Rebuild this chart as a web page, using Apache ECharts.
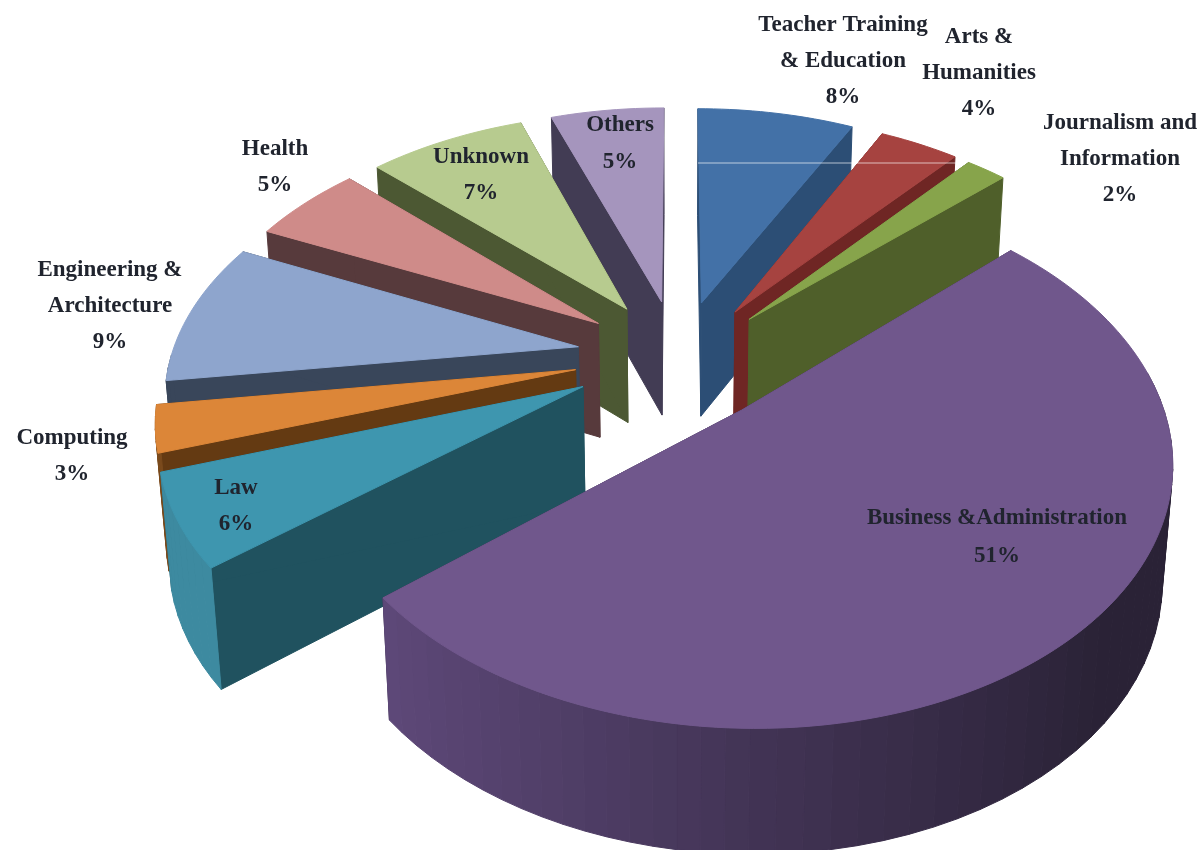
<!DOCTYPE html>
<html>
<head>
<meta charset="utf-8">
<script src="https://cdn.jsdelivr.net/npm/echarts@6/dist/echarts.min.js"></script>
<style>html,body{margin:0;padding:0;background:#fff}#chart{width:1200px;height:850px}</style>
</head>
<body>
<div id="chart"></div>
<script>
// Share of students by field of study, clockwise from twelve o'clock.
const categories = [
  'Teacher Training\n& Education', 'Arts &\nHumanities', 'Journalism and\nInformation',
  'Business &Administration', 'Law', 'Computing', 'Engineering &\nArchitecture',
  'Health', 'Unknown', 'Others'
];
const shares = [8, 4, 2, 51, 6, 3, 9, 5, 7, 5];

const topColors  = ['#4371a7', '#a64340', '#87a44b', '#70578c', '#3e96af', '#dc8638', '#8ea5cd', '#cf8b89', '#b7cb8f', '#a595bd'];
const edgeColors = ['#2c4e75', '#6f2624', '#4f5f2a', '#3a2d4c', '#20525f', '#643a12', '#39465a', '#573a3c', '#4c5833', '#423c54'];
const rimLight   = ['#3a628f', '#8a3835', '#6f873c', '#5d4878', '#3d8aa0', '#7a4a1c', '#39465a', '#a06c6a', '#8c9c6e', '#7f7391'];
const rimDark    = ['#2c4e75', '#6f2624', '#4f5f2a', '#2a2236', '#2c6a7c', '#643a12', '#39465a', '#573a3c', '#4c5833', '#423c54'];

// Label centres on the page.
const labelCentres = [
  [843, 61], [979, 73], [1120, 159], [997, 537], [236, 506],
  [72, 456], [110, 306], [275, 167], [481, 175], [620, 144]
];
const labelLineHeights = [36, 36, 36, 38, 36, 36, 36, 36, 36, 37];

// Painter's order: rear slices first, the large front slice last.
const paintOrder = [9, 0, 8, 1, 7, 2, 6, 5, 4, 3];

// Perspective projection of the tilted disc.
const view = {
  cx: 677, cy: 360, rx: 408, ry: 245, persp: 0.17,
  depth: 115, depthPersp: 0.4, converge: 0.00018,
  explode: 0.25, angleBend: 4.3 * Math.PI / 180
};

function project(u, v, h) {
  const s = 1 / (1 - view.persp * v);
  const hs = h * Math.pow(s, view.depthPersp);
  const dx = view.rx * u * s;
  return [view.cx + dx * (1 - view.converge * hs), view.cy + view.ry * v * s + hs];
}
function mixHex(a, b, t) {
  const pa = parseInt(a.slice(1), 16), pb = parseInt(b.slice(1), 16);
  const ch = sh => Math.round(((pa >> sh) & 255) * (1 - t) + ((pb >> sh) & 255) * t);
  return 'rgb(' + ch(16) + ',' + ch(8) + ',' + ch(0) + ')';
}

const total = shares.reduce((a, b) => a + b, 0);
const startShares = shares.map((_, i) => shares.slice(0, i).reduce((a, b) => a + b, 0));

function renderSlice(params, api) {
  const idx = api.value(0);
  const value = api.value(1);
  const a0 = startShares[idx] / total * 2 * Math.PI;
  const a1 = a0 + value / total * 2 * Math.PI;
  const mid = (a0 + a1) / 2;
  const ou = view.explode * Math.sin(mid), ov = -view.explode * Math.cos(mid);
  // the camera's slight roll bends side angles back towards twelve o'clock
  const bent = a => a - view.angleBend * Math.abs(Math.sin(a));
  const rimPoint = (a, h) => {
    const b = bent(a);
    return project(ou + Math.sin(b), ov - Math.cos(b), h);
  };
  const apex = h => project(ou, ov, h);
  const rank = paintOrder.indexOf(idx) * 200;
  const children = [];
  const poly = (points, fill, z2) => children.push({
    type: 'polygon', z2: z2, silent: true,
    shape: { points: points },
    style: { fill: fill, stroke: fill, lineWidth: 1 }
  });

  // radial cut faces
  [a0, a1].forEach((a, k) => poly(
    [apex(0), rimPoint(a, 0), rimPoint(a, view.depth), apex(view.depth)],
    edgeColors[idx], rank + k
  ));

  // outer wall, drawn as narrow vertical bands
  const steps = Math.max(2, Math.ceil((a1 - a0) / (Math.PI / 60)));
  for (let i = 0; i < steps; i++) {
    const s0 = a0 + (a1 - a0) * i / steps, s1 = a0 + (a1 - a0) * (i + 1) / steps;
    const m = (s0 + s1) / 2;
    if (-Math.cos(m) <= -0.05) continue;
    const t = Math.min(1, Math.max(0, (Math.sin(m) + 0.8) / 1.5));
    poly([rimPoint(s0, 0), rimPoint(s1, 0), rimPoint(s1, view.depth), rimPoint(s0, view.depth)],
      mixHex(rimLight[idx], rimDark[idx], t), rank + 2 + i);
  }

  // top face
  const face = [apex(0)];
  const arcSteps = Math.ceil((a1 - a0) / (Math.PI / 120));
  for (let i = 0; i <= arcSteps; i++) face.push(rimPoint(a0 + (a1 - a0) * i / arcSteps, 0));
  poly(face, topColors[idx], rank + 190);

  children.push({
    type: 'text', z2: 10000, silent: true,
    style: {
      text: categories[idx] + '\n' + value + '%',
      x: labelCentres[idx][0], y: labelCentres[idx][1],
      align: 'center', verticalAlign: 'middle',
      font: 'bold 23px "Liberation Serif"',
      lineHeight: labelLineHeights[idx],
      fill: '#20242e'
    }
  });
  return { type: 'group', children: children };
}

const chart = echarts.init(document.getElementById('chart'), null, { renderer: 'canvas' });
chart.setOption({
  animation: false,
  backgroundColor: '#ffffff',
  series: [{
    type: 'custom',
    coordinateSystem: 'none',
    renderItem: renderSlice,
    data: shares.map((v, i) => [i, v]),
    silent: true
  }],
  graphic: [{
    type: 'line', z: 50, silent: true,
    shape: { x1: 698, y1: 163, x2: 962, y2: 163 },
    style: { stroke: 'rgba(255,255,255,0.65)', lineWidth: 1 }
  }]
});
</script>
</body>
</html>
